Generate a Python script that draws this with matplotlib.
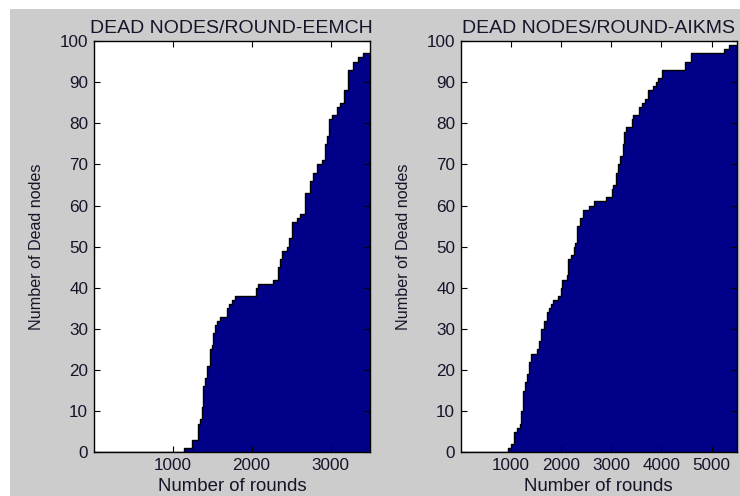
import numpy as np
import matplotlib
matplotlib.use('Agg')
import matplotlib.pyplot as plt
from matplotlib.patches import Rectangle

plt.rcParams['font.family'] = ['Liberation Sans', 'DejaVu Sans']

# rounds at which the dead-node count changes, and the count after it
rounds_eemch = [0, 1143, 1240, 1316, 1346, 1367, 1388, 1409, 1439, 1472, 1493, 1515, 1536,
                1565, 1599, 1683, 1717, 1747, 1789, 2051, 2084, 2274, 2329, 2359, 2388,
                2443, 2472, 2515, 2570, 2612, 2683, 2738, 2781, 2831, 2894, 2928, 2958,
                2983, 3013, 3076, 3118, 3169, 3224, 3287, 3350, 3413, 3500]
dead_eemch = [0, 1, 3, 7, 8, 11, 16, 18, 21, 25, 26, 29, 31,
              32, 33, 35, 36, 37, 38, 40, 41, 42, 45, 47, 49,
              50, 52, 56, 57, 58, 63, 66, 68, 70, 71, 75, 77,
              81, 82, 84, 85, 88, 93, 95, 96, 97, 97]

rounds_aikms = [0, 934, 1000, 1053, 1119, 1178, 1198, 1231, 1277, 1317, 1363, 1396, 1514,
                1560, 1607, 1659, 1712, 1758, 1791, 1844, 1936, 2002, 2022, 2121, 2140,
                2200, 2252, 2285, 2318, 2371, 2437, 2549, 2661, 2898, 3010, 3043, 3089,
                3129, 3175, 3228, 3261, 3294, 3406, 3439, 3551, 3603, 3669, 3735, 3834,
                3887, 3933, 4019, 4460, 4579, 5251, 5337, 5500]
dead_aikms = [0, 1, 2, 5, 6, 7, 10, 15, 17, 19, 22, 24, 25,
              27, 30, 32, 34, 35, 36, 37, 38, 40, 42, 43, 47,
              48, 50, 51, 55, 57, 59, 60, 61, 62, 64, 65, 68,
              70, 72, 75, 78, 79, 81, 82, 84, 85, 86, 88, 89,
              90, 91, 93, 95, 97, 98, 99, 99]

titles = ['DEAD NODES/ROUND-EEMCH', 'DEAD NODES/ROUND-AIKMS']
xticks_list = [[1000, 2000, 3000], [1000, 2000, 3000, 4000, 5000]]
xmax_list = [3500, 5500]

fig = plt.figure(figsize=(7.4, 4.96), dpi=100, facecolor='white')
# grey MATLAB-like figure area, with thin white strip at top and left
fig.patches.append(Rectangle((10 / 740, 0), 1, (496 - 9) / 496, transform=fig.transFigure,
                             facecolor='#cccccc', edgecolor='none', zorder=-10))

positions = [[0.1266, 0.0881, 0.3734, 0.8292], [0.6226, 0.0881, 0.3730, 0.8292]]
all_data = [(rounds_eemch, dead_eemch), (rounds_aikms, dead_aikms)]

txt_color = '#15152a'
for i in range(2):
    ax = fig.add_axes(positions[i])
    x, y = all_data[i]
    ax.fill_between(x, y, step='post', color='#000088', linewidth=0)
    ax.step(x, y, where='post', color='black', linewidth=1.0)
    ax.set_xlim(0, xmax_list[i])
    ax.set_ylim(0, 100)
    ax.set_xticks(xticks_list[i])
    ax.set_yticks(np.arange(0, 101, 10))
    ax.tick_params(direction='in', length=4, top=True, right=True, labelsize=12.3,
                   colors='black', labelcolor=txt_color, pad=4)
    ax.set_title(titles[i], fontsize=14, color=txt_color, pad=6)
    ax.set_xlabel('Number of rounds', fontsize=13.4, color=txt_color, labelpad=4)
    ax.set_ylabel('Number of Dead nodes', fontsize=11.6, color=txt_color, labelpad=11.5)
    for s in ax.spines.values():
        s.set_linewidth(1.0)
        s.set_color('black')

fig.savefig('out.png', dpi=100, facecolor=fig.get_facecolor())
